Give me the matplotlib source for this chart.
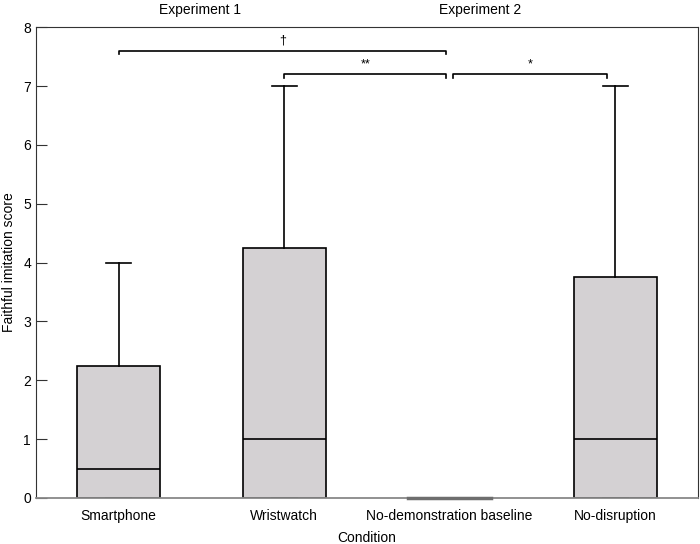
import matplotlib.pyplot as plt

plt.rcParams['font.family'] = ['Liberation Sans', 'DejaVu Sans']

# Box summary values
conditions = ["Smartphone", "Wristwatch", "No-demonstration baseline", "No-disruption"]
whislo = [0, 0, 0, 0]
q1 = [0, 0, 0, 0]
medians = [0.5, 1.0, 0.0, 1.0]
q3 = [2.25, 4.25, 0.0, 3.75]
whishi = [4, 7, 0, 7]

# Significance brackets: (start position, end position, height, label)
brackets = [(1, 2.98, 7.6, "\u2020"), (2, 2.98, 7.2, "**"), (3.02, 3.95, 7.2, "*")]

stats = []
for i, name in enumerate(conditions):
    stats.append(dict(label=name, whislo=whislo[i], q1=q1[i], med=medians[i],
                      q3=q3[i], whishi=whishi[i], fliers=[]))

fig = plt.figure(figsize=(7, 5.44), dpi=100)
ax = fig.add_axes([0.0514, 0.0846, 0.9456, 0.8654])

ax.bxp(stats, positions=[1, 2, 3, 4], widths=0.5, capwidths=0.15, patch_artist=True,
       boxprops=dict(facecolor='#d4d1d3', edgecolor='black', linewidth=1.2),
       medianprops=dict(color='black', linewidth=1.2),
       whiskerprops=dict(color='black', linewidth=1.2),
       capprops=dict(color='black', linewidth=1.2))

# the zero-height baseline box shows as a gray line
ax.plot([2.75, 3.25], [0, 0], color='#6e6e6e', linewidth=2.5, zorder=6, clip_on=False)

for x0, x1, y, lab in brackets:
    ax.plot([x0, x0, x1, x1], [y - 0.06, y, y, y - 0.06], color='black', linewidth=1.2)
    ax.text((x0 + x1) / 2, y + 0.07, lab, ha='center', va='bottom', fontsize=9)

ax.set_xlim(0.5, 4.5)
ax.set_ylim(0, 8)
ax.set_yticks(range(0, 9))
ax.tick_params(axis='y', direction='in', length=8, labelsize=10, color='#333333')
ax.tick_params(axis='x', length=0, labelsize=10, pad=8)
for s in ax.spines.values():
    s.set_color('#333333')
ax.spines['bottom'].set_color('#888888')
ax.spines['bottom'].set_linewidth(1.3)

ax.set_xlabel("Condition", fontsize=10, labelpad=6)
ax.set_ylabel("Faithful imitation score", fontsize=10, labelpad=5)

fig.text(200 / 700, 1 - 10 / 544, "Experiment 1", ha='center', va='center', fontsize=10)
fig.text(480 / 700, 1 - 10 / 544, "Experiment 2", ha='center', va='center', fontsize=10)

fig.savefig('out.png', dpi=100)
